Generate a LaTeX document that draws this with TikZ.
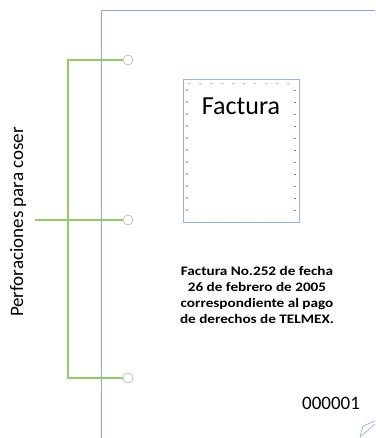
\documentclass[tikz,border=0pt]{standalone}
\usepackage{fontspec}
\setmainfont{Carlito}
\definecolor{pageblue}{RGB}{140,170,210}
\definecolor{boxblue}{RGB}{150,180,225}
\definecolor{sewgreen}{RGB}{146,205,95}
\definecolor{holegray}{RGB}{195,195,195}
\tikzset{
    page/.style={pageblue, line width=0.9pt},
    bracket/.style={sewgreen, line width=1.2pt},
    hole/.style={circle, draw=holegray, fill=white, line width=0.8pt, minimum size=10pt, inner sep=0pt},
    stitch/.style={gray, line width=0.3pt}
}
\begin{document}
\begin{tikzpicture}[x=1pt, y=-1pt]
    \useasboundingbox (0,0) rectangle (375,438);

    % Sewing holes and bracket
    \node[hole] (h1) at (128,60) {};
    \node[hole] (h2) at (128,220) {};
    \node[hole] (h3) at (128,378) {};
    \coordinate (tip) at (35,220);
    \node[rotate=90, font=\fontsize{19}{22}\selectfont] (lbl) at (18,222) {Perforaciones para coser};
    \draw[bracket] (h1.west) -- (68,60) -- (68,378) -- (h3.west);
    \draw[bracket] (tip) -- (h2.west);

    % Page edge
    \draw[page] (101,438) -- (101,10) -- (375,10);
    \draw[pageblue, line width=0.6pt] (360,437) -- (363,426) -- (375,421);
    \draw[pageblue, line width=0.6pt] (360,437) -- (375,424);

    % Invoice box
    \draw[boxblue, line width=0.8pt] (183,79) rectangle (299,222);
    \foreach \x in {188,199,...,295} {
        \draw[stitch] (\x,83) arc (180:360:1.2pt);
        \fill[gray] (\x,219) circle (0.4pt);
    }
    \foreach \y in {90,102,...,215} {
        \draw[stitch] (186,\y-1) -- (188,\y) -- (186,\y+1);
        \draw[stitch] (294,\y) -- (296,\y);
    }
    \node[font=\fontsize{26}{30}\selectfont] (title) at (241,106) {Factura};

    % Description and number
    \node[align=center, xscale=1.17, transform shape, font=\fontsize{13}{16}\selectfont\bfseries] (desc) at (257,295)
        {Factura No.252 de fecha\\26 de febrero de 2005\\correspondiente al pago\\de derechos de TELMEX.};
    \node[font=\fontsize{19}{22}\selectfont] (num) at (331,403) {000001};
\end{tikzpicture}
\end{document}
